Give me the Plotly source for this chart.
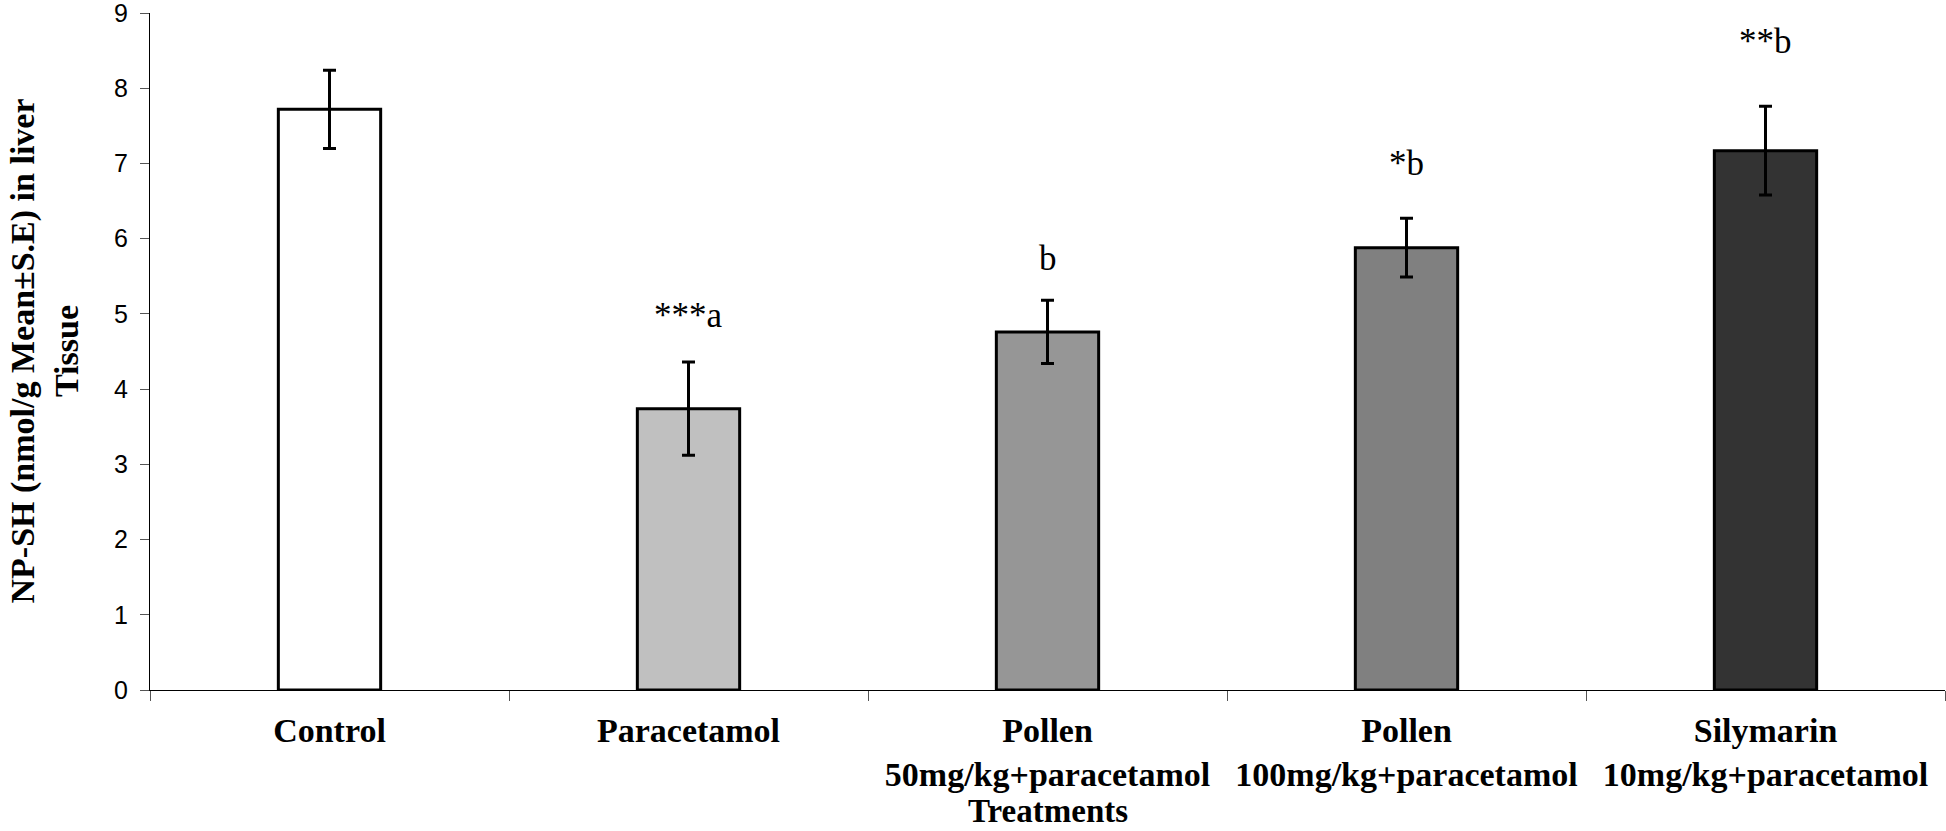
import plotly.graph_objects as go

categories = ["Control", "Paracetamol", "Pollen 50", "Pollen 100", "Silymarin"]
tick_labels = ["Control", "Paracetamol", "Pollen<br>50mg/kg+paracetamol",
               "Pollen<br>100mg/kg+paracetamol", "Silymarin<br>10mg/kg+paracetamol"]
means = [7.72, 3.74, 4.76, 5.88, 7.17]
se = [0.52, 0.62, 0.42, 0.39, 0.59]
bar_colors = ["#ffffff", "#c0c0c0", "#969696", "#808080", "#333333"]
sig_labels = ["", "***a", "b", "*b", "**b"]
sig_y = [None, 4.98, 5.74, 7.0, 8.62]

SERIF = "Liberation Serif, Times New Roman, serif"
SANS = "Liberation Sans, Arial, sans-serif"

fig = go.Figure()
fig.add_trace(go.Bar(
    x=categories, y=means,
    marker=dict(color=bar_colors, line=dict(color="#000000", width=3)),
    error_y=dict(type="data", array=se, visible=True, color="#000000",
                 thickness=3, width=6.5),
    showlegend=False,
))

for c, t, yv in zip(categories, sig_labels, sig_y):
    if t:
        fig.add_annotation(x=c, y=yv, text=t, showarrow=False,
                           xanchor="center", yanchor="middle",
                           font=dict(family=SERIF, size=35, color="#000000"))

fig.add_annotation(xref="paper", yref="paper", x=0, y=0.5, xshift=-106,
                   text="NP-SH (nmol/g Mean±S.E) in liver<br>Tissue",
                   textangle=-90, showarrow=False, xanchor="center", yanchor="middle",
                   font=dict(family=SERIF, size=34, color="#000000", weight="bold"))
fig.add_annotation(xref="paper", yref="paper", x=0.5, y=0, yshift=-141,
                   text="Treatments", showarrow=False, xanchor="center", yanchor="bottom",
                   font=dict(family=SERIF, size=33, color="#000000", weight="bold"))

fig.update_layout(
    width=1946, height=831,
    margin=dict(l=150, r=1, t=13, b=141, autoexpand=False),
    paper_bgcolor="#ffffff", plot_bgcolor="#ffffff",
    bargap=0.715,
    xaxis=dict(
        tickmode="array", tickvals=categories, ticktext=tick_labels,
        range=[-0.5, 4.5], showline=True, linecolor="#000000", linewidth=1,
        ticks="outside", tickson="boundaries", ticklen=10, tickcolor="#555555",
        tickangle=0, ticklabelstandoff=10,
        tickfont=dict(family=SERIF, size=34, color="#000000", weight="bold"),
        showgrid=False, zeroline=False, automargin=False,
    ),
    yaxis=dict(
        range=[0, 9], dtick=1, showline=True, linecolor="#000000", linewidth=1,
        ticks="outside", ticklen=9, tickcolor="#555555",
        tickfont=dict(family=SANS, size=25, color="#000000"),
        showgrid=False, zeroline=False, automargin=False, ticklabelstandoff=7,
        ticklabeloverflow="allow",
    ),
)

fig.write_html("out.html", config={"displayModeBar": False},
               post_script="document.body.style.margin='0px';")
